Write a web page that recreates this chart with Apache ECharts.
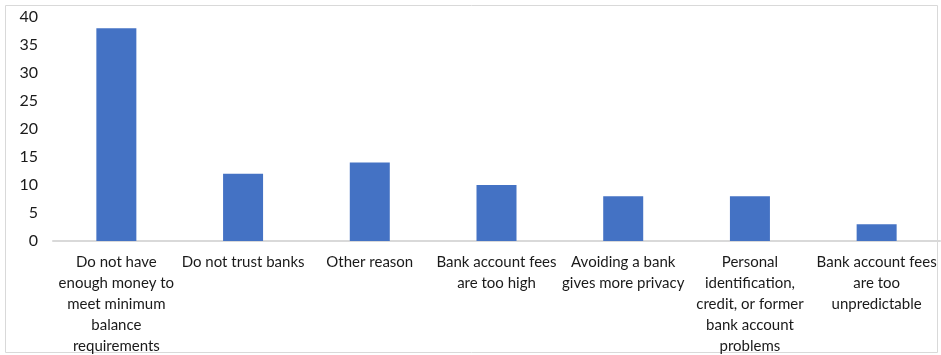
<!DOCTYPE html>
<html>
<head>
<meta charset="utf-8">
<script src="https://cdn.jsdelivr.net/npm/echarts@6/dist/echarts.min.js"></script>
<style>
  html, body { margin: 0; padding: 0; background: #fff; }
  #chart { width: 941px; height: 355px; }
</style>
</head>
<body>
<div id="chart"></div>
<script>
var myChart = echarts.init(document.getElementById('chart'));

// reasons for not having a bank account
var categories = [
    'Do not have\nenough money to\nmeet minimum\nbalance\nrequirements',
    'Do not trust banks',
    'Other reason',
    'Bank account fees\nare too high',
    'Avoiding a bank\ngives more privacy',
    'Personal\nidentification,\ncredit, or former\nbank account\nproblems',
    'Bank account fees\nare too\nunpredictable'
];
var values = [38, 12, 14, 10, 8, 8, 3];
var yTicks = [0, 5, 10, 15, 20, 25, 30, 35, 40];

var option = {
    animation: false,
    textStyle: { fontFamily: 'Lato' },
    graphic: [{
        type: 'rect',
        shape: { x: 5.5, y: 5.5, width: 932, height: 347 },
        style: { fill: 'none', stroke: '#d9d9d9', lineWidth: 1 },
        silent: true
    }],
    grid: { left: 53, right: 1, top: 17, bottom: 114, outerBoundsMode: 'none' },
    xAxis: {
        type: 'category',
        data: categories,
        axisTick: { show: false },
        axisLine: { lineStyle: { color: '#d9d9d9', width: 2 } },
        axisLabel: {
            interval: 0,
            color: '#1a1a1a',
            fontSize: 15,
            lineHeight: 21,
            margin: 11
        }
    },
    yAxis: {
        type: 'value',
        min: yTicks[0],
        max: yTicks[yTicks.length - 1],
        interval: 5,
        splitLine: { show: false },
        axisLine: { show: false },
        axisTick: { show: false },
        axisLabel: { color: '#1a1a1a', fontSize: 16, margin: 15 }
    },
    series: [{
        type: 'bar',
        data: values,
        barWidth: 40,
        itemStyle: { color: '#4472c4' }
    }]
};

myChart.setOption(option);
</script>
</body>
</html>
